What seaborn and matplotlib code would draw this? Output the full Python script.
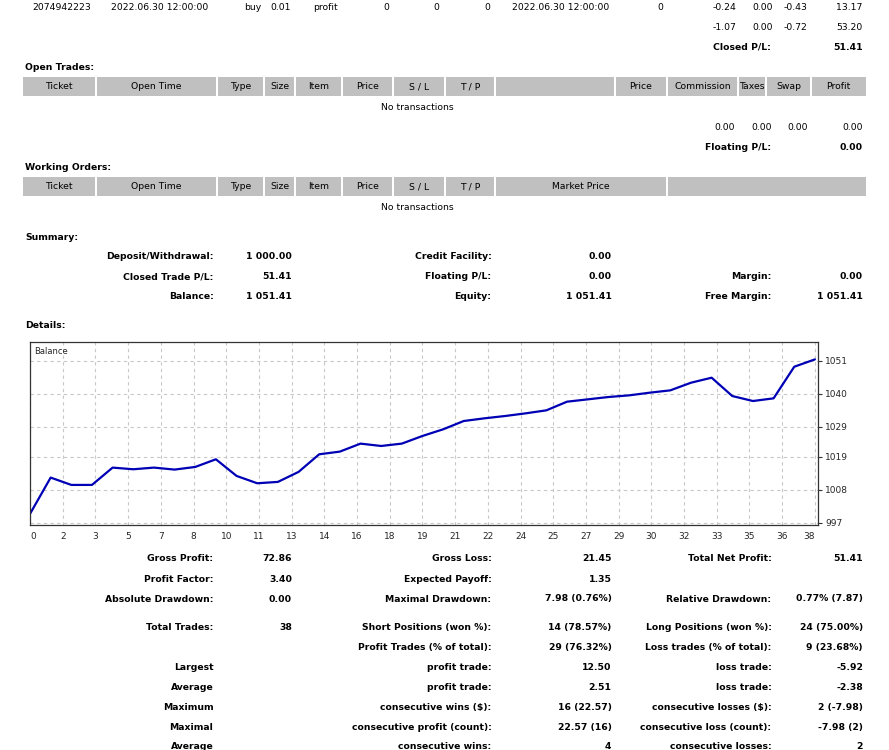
#!/usr/bin/env python3

import matplotlib
matplotlib.use("Agg")
import numpy as np
import pandas as pd
import matplotlib.pyplot as plt
import seaborn as sns
from matplotlib.patches import Rectangle

# =========================================================
# Data
# =========================================================
trade_no = list(range(39))
balance = [
    1000.00, 1012.08, 1009.64, 1009.64, 1015.40, 1014.85, 1015.40, 1014.74,
    1015.62, 1018.17, 1012.63, 1010.19, 1010.64, 1013.96, 1019.83, 1020.72,
    1023.38, 1022.60, 1023.38, 1025.93, 1028.14, 1030.91, 1031.80, 1032.57,
    1033.46, 1034.46, 1037.34, 1038.11, 1038.89, 1039.44, 1040.33, 1041.11,
    1043.65, 1045.32, 1039.22, 1037.56, 1038.45, 1048.97, 1051.41,
]
xtick_labels = [0, 2, 3, 5, 7, 8, 10, 11, 13, 14, 16, 18, 19, 21, 22, 24,
                25, 27, 29, 30, 32, 33, 35, 36, 38]
ytick_labels = [997, 1008, 1019, 1029, 1040, 1051]

last_trade = ["2074942223", "2022.06.30 12:00:00", "buy", "0.01", "profit",
              "0", "0", "0", "2022.06.30 12:00:00", "0",
              "-0.24", "0.00", "-0.43", "13.17"]
closed_totals = ["-1.07", "0.00", "-0.72", "53.20"]
closed_pl = "51.41"
open_totals = ["0.00", "0.00", "0.00", "0.00"]
floating_pl = "0.00"

open_headers = ["Ticket", "Open Time", "Type", "Size", "Item", "Price", "S / L",
                "T / P", "", "Price", "Commission", "Taxes", "Swap", "Profit"]
working_headers = ["Ticket", "Open Time", "Type", "Size", "Item", "Price",
                   "S / L", "T / P", "Market Price", ""]

summary_labels_1 = ["Deposit/Withdrawal:", "Closed Trade P/L:", "Balance:"]
summary_values_1 = ["1 000.00", "51.41", "1 051.41"]
summary_labels_2 = ["Credit Facility:", "Floating P/L:", "Equity:"]
summary_values_2 = ["0.00", "0.00", "1 051.41"]
summary_labels_3 = ["", "Margin:", "Free Margin:"]
summary_values_3 = ["", "0.00", "1 051.41"]

stat_labels_1 = ["Gross Profit:", "Profit Factor:", "Absolute Drawdown:",
                 "Total Trades:", "", "Largest", "Average", "Maximum",
                 "Maximal", "Average"]
stat_values_1 = ["72.86", "3.40", "0.00", "38", "", "", "", "", "", ""]
stat_labels_2 = ["Gross Loss:", "Expected Payoff:", "Maximal Drawdown:",
                 "Short Positions (won %):", "Profit Trades (% of total):",
                 "profit trade:", "profit trade:", "consecutive wins ($):",
                 "consecutive profit (count):", "consecutive wins:"]
stat_values_2 = ["21.45", "1.35", "7.98 (0.76%)", "14 (78.57%)",
                 "29 (76.32%)", "12.50", "2.51", "16 (22.57)", "22.57 (16)",
                 "4"]
stat_labels_3 = ["Total Net Profit:", "", "Relative Drawdown:",
                 "Long Positions (won %):", "Loss trades (% of total):",
                 "loss trade:", "loss trade:", "consecutive losses ($):",
                 "consecutive loss (count):", "consecutive losses:"]
stat_values_3 = ["51.41", "", "0.77% (7.87)", "24 (75.00%)", "9 (23.68%)",
                 "-5.92", "-2.38", "2 (-7.98)", "-7.98 (2)", "2"]

# =========================================================
# Layout (pixels of a 889 x 750 page)
# =========================================================
W, H = 889, 750
FS = 6.7

sns.set_style("white")
plt.rcParams["font.family"] = ["DejaVu Sans"]

fig = plt.figure(figsize=(W / 100, H / 100), dpi=100)
fig.patch.set_facecolor("white")


def put(x, y, s, ha="left", bold=False, size=FS):
    fig.text(x / W, 1 - y / H, s, ha=ha, va="center", fontsize=size,
             fontweight="bold" if bold else "normal", color="#000000")


def header_row(edges, labels, y0, y1):
    for (a, b), lab in zip(zip(edges[:-1], edges[1:]), labels):
        fig.add_artist(Rectangle((a / W + 1 / W, 1 - y1 / H), (b - a - 2) / W,
                                 (y1 - y0) / H, transform=fig.transFigure,
                                 facecolor="#c0c0c0", edgecolor="none"))
        if lab:
            put((a + b) / 2, (y0 + y1) / 2, lab, ha="center")


# closed transactions tail
row1_x = [32.5, 111.5, 244, 270.5, 313, 386.5, 436.5, 487, 512, 660,
          736.5, 772.5, 807.5, 862.5]
row1_ha = ["left"] * 5 + ["center"] * 3 + ["left", "center"] + ["right"] * 4
for x, s, ha in zip(row1_x, last_trade, row1_ha):
    put(x, 7, s, ha=ha)
for x, s in zip([736.5, 772.5, 807.5, 862.5], closed_totals):
    put(x, 27, s, ha="right")
put(771, 47, "Closed P/L:", ha="right", bold=True)
put(862.5, 47, closed_pl, ha="right", bold=True)

# open trades
put(25, 68, "Open Trades:", bold=True)
open_edges = [22, 95.7, 216.7, 264.3, 295.3, 342.3, 392.7, 445, 495, 614.7,
              666.7, 738, 766.3, 810.7, 866.7]
header_row(open_edges, open_headers, 77.3, 95.7)
put(417, 107, "No transactions", ha="center")
for x, s in zip([734.5, 772, 808, 862.5], open_totals):
    put(x, 127, s, ha="right")
put(771, 147, "Floating P/L:", ha="right", bold=True)
put(862.5, 147, floating_pl, ha="right", bold=True)

# working orders
put(25, 167.5, "Working Orders:", bold=True)
work_edges = [22, 95.7, 216.7, 264.3, 295.3, 342.3, 392.7, 445, 495, 666.7,
              866.7]
header_row(work_edges, working_headers, 177, 196)
put(417, 207.5, "No transactions", ha="center")

# summary
put(25, 238, "Summary:", bold=True)
col_x = [213.5, 292, 491.5, 611.5, 771.5, 863]
for i, y in enumerate([256.5, 276.5, 296]):
    cells = [summary_labels_1[i], summary_values_1[i], summary_labels_2[i],
             summary_values_2[i], summary_labels_3[i], summary_values_3[i]]
    for x, s in zip(col_x, cells):
        if s:
            put(x, y, s, ha="right", bold=True)

put(25, 325, "Details:", bold=True)

# statistics under the chart
stat_y = [558.3, 579, 599, 627.3, 647.3, 667.3, 687.3, 707.3, 727.3, 746.5]
for i, y in enumerate(stat_y):
    cells = [stat_labels_1[i], stat_values_1[i], stat_labels_2[i],
             stat_values_2[i], stat_labels_3[i], stat_values_3[i]]
    for x, s in zip(col_x, cells):
        if s:
            put(x, y, s, ha="right", bold=True)

# =========================================================
# Balance chart
# =========================================================
ax_l, ax_t, ax_r, ax_b = 30, 342, 818, 525
ax = fig.add_axes([ax_l / W, 1 - ax_b / H, (ax_r - ax_l) / W,
                   (ax_b - ax_t) / H])

df = pd.DataFrame({"trade": trade_no, "balance": balance})
sns.lineplot(data=df, x="trade", y="balance", ax=ax, color="#0000b4",
             linewidth=1.6)

ax.set_xlim(0, 38.15)
ax.set_ylim(996.3, 1057.2)
xt = np.linspace(0, 38, len(xtick_labels))
ax.set_xticks(xt)
ax.set_xticklabels([str(v) for v in xtick_labels], fontsize=6.5)
ax.set_yticks(ytick_labels)
ax.set_yticklabels([str(v) for v in ytick_labels], fontsize=6.5)
ax.yaxis.tick_right()
ax.tick_params(axis="both", direction="out", length=3, width=0.8,
               color="#333333", pad=2)
xlabs = ax.get_xticklabels()
xlabs[0].set_horizontalalignment("left")
xlabs[-1].set_horizontalalignment("right")
ax.set_xlabel("")
ax.set_ylabel("")
ax.grid(True, color="#c8c8c8", linestyle=(0, (3, 3)), linewidth=0.8)
ax.set_axisbelow(True)
for sp in ax.spines.values():
    sp.set_visible(True)
    sp.set_color("#333333")
    sp.set_linewidth(0.9)
ax.text(0.005, 0.95, "Balance", transform=ax.transAxes, fontsize=6,
        ha="left", va="center")

fig.savefig("out.png", dpi=100)
